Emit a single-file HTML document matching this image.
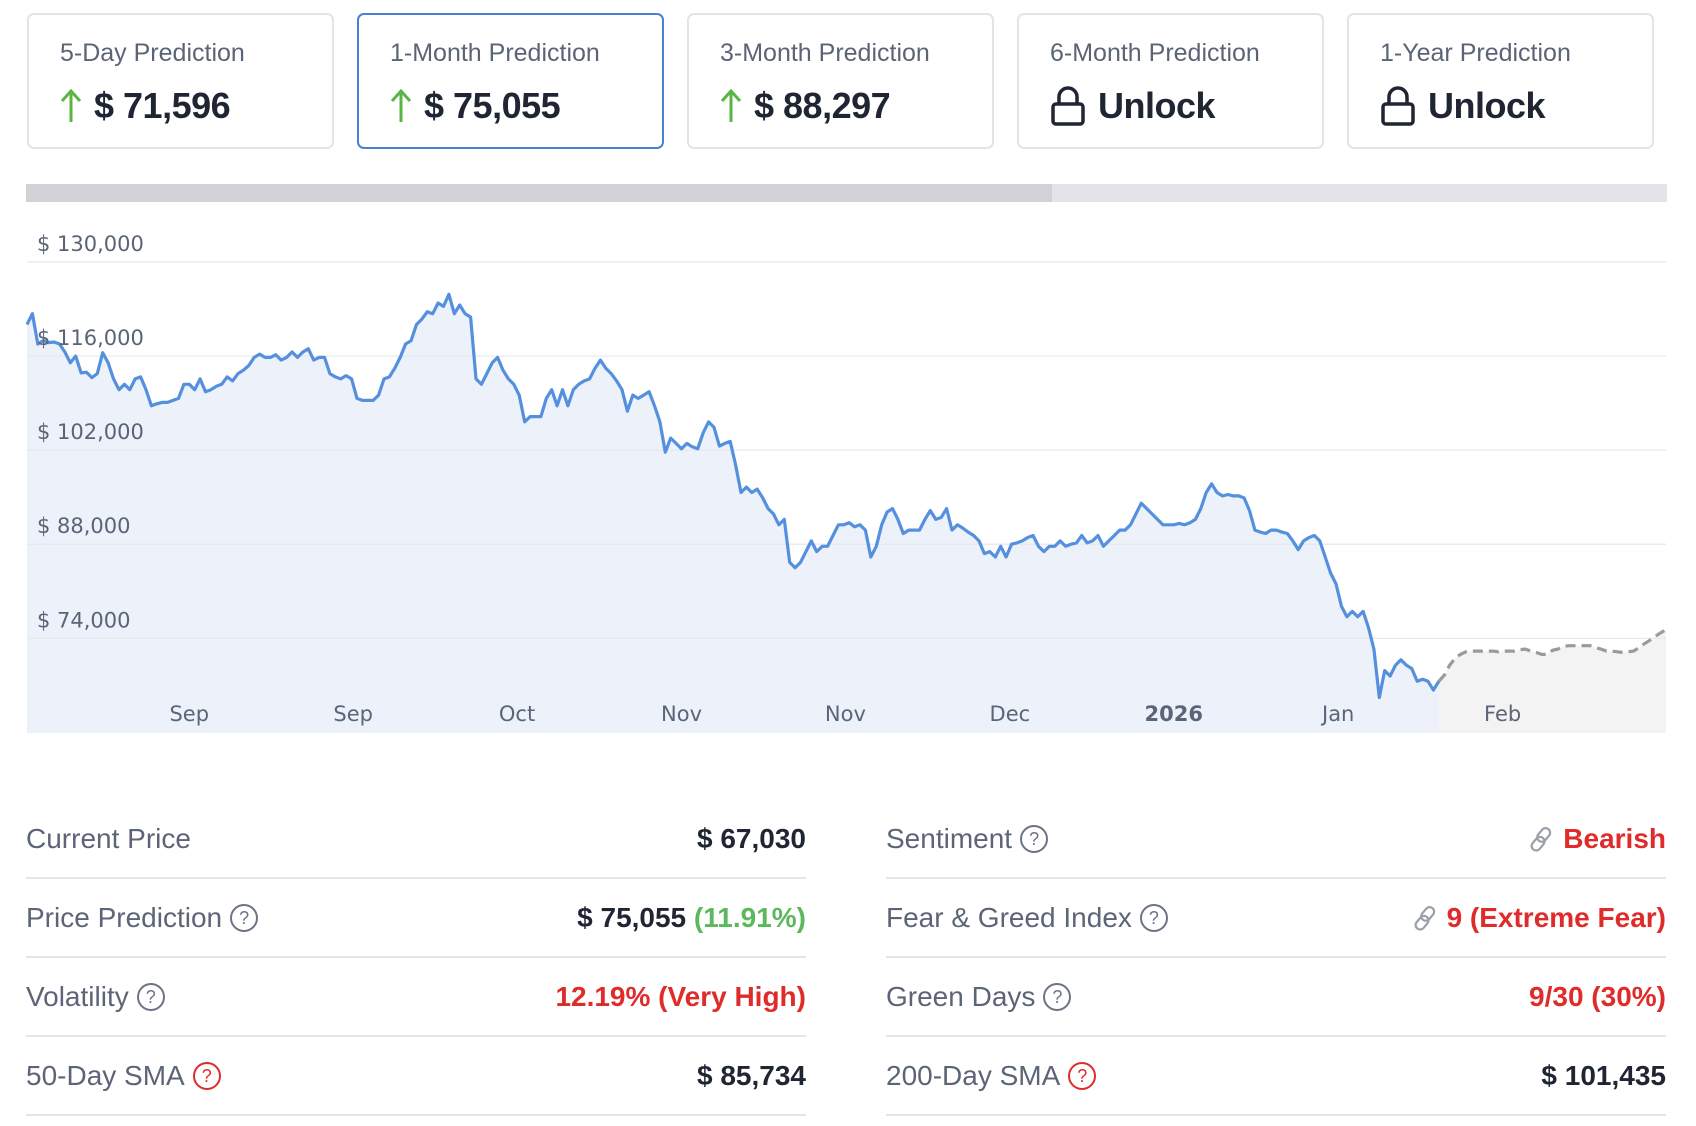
<!DOCTYPE html>
<html><head><meta charset="utf-8">
<style>
body{margin:0;width:1696px;height:1126px;background:#fff;font-family:"Liberation Sans",sans-serif;position:relative;overflow:hidden}
.card{position:absolute;top:13px;width:307px;height:136px;border:2px solid #e1e4e8;border-radius:7px;box-sizing:border-box;background:#fff}
.card.sel{border-color:#4a80d1}
.card .t{position:absolute;left:31px;top:24px;font-size:25px;color:#5b6477}
.card .v{position:absolute;left:31px;top:70px;font-size:36px;font-weight:bold;color:#1f2533;display:flex;align-items:center;letter-spacing:-0.5px}
.card .v svg{margin-right:12px}
.bar{position:absolute;left:26px;top:184px;width:1641px;height:18px;background:#e3e4e8}
.bar div{width:1026px;height:18px;background:#d1d2d7}
.row{position:absolute;height:79px;box-sizing:border-box;border-bottom:2px solid #e2e5ea;font-size:28px;display:flex;align-items:center;justify-content:space-between}
.row .l{color:#5c6578;display:flex;align-items:center}
.row .r{font-weight:bold;color:#1f2533;display:flex;align-items:center}
.q{display:inline-block;width:24px;height:24px;border:2px solid #6b7385;border-radius:50%;font-size:18px;line-height:24px;text-align:center;margin-left:8px;color:#6b7385;box-sizing:content-box}
.row .q.red{border-color:#e02b2b;color:#e02b2b}
.row .r.red,.red{color:#e02b2b}.grn{color:#5cb85c}
.lnk{margin-right:8px}
</style></head><body>
<div class="card" style="left:27px"><div class="t">5-Day Prediction</div><div class="v"><svg width="22" height="36" viewBox="0 0 22 36"><path d="M11 34V4M2 13L11 3L20 13" stroke="#5bb543" stroke-width="3" fill="none"/></svg>$ 71,596</div></div>
<div class="card sel" style="left:357px"><div class="t">1-Month Prediction</div><div class="v"><svg width="22" height="36" viewBox="0 0 22 36"><path d="M11 34V4M2 13L11 3L20 13" stroke="#5bb543" stroke-width="3" fill="none"/></svg>$ 75,055</div></div>
<div class="card" style="left:687px"><div class="t">3-Month Prediction</div><div class="v"><svg width="22" height="36" viewBox="0 0 22 36"><path d="M11 34V4M2 13L11 3L20 13" stroke="#5bb543" stroke-width="3" fill="none"/></svg>$ 88,297</div></div>
<div class="card" style="left:1017px"><div class="t">6-Month Prediction</div><div class="v"><svg width="36" height="40" viewBox="0 0 36 40"><path d="M9 18V11a9 9 0 0 1 18 0v7" stroke="#1f2533" stroke-width="3.5" fill="none"/><rect x="3" y="18" width="30" height="20" rx="3" stroke="#1f2533" stroke-width="3.5" fill="none"/></svg>Unlock</div></div>
<div class="card" style="left:1347px"><div class="t">1-Year Prediction</div><div class="v"><svg width="36" height="40" viewBox="0 0 36 40"><path d="M9 18V11a9 9 0 0 1 18 0v7" stroke="#1f2533" stroke-width="3.5" fill="none"/><rect x="3" y="18" width="30" height="20" rx="3" stroke="#1f2533" stroke-width="3.5" fill="none"/></svg>Unlock</div></div>
<div class="bar"><div></div></div>

<svg id="chart" width="1696" height="760" style="position:absolute;left:0;top:0"></svg>

<div class="row" style="left:26px;top:800px;width:780px"><span class="l">Current Price</span><span class="r">$ 67,030</span></div>
<div class="row" style="left:26px;top:879px;width:780px"><span class="l">Price Prediction<span class="q">?</span></span><span class="r">$ 75,055&nbsp;<span class="grn">(11.91%)</span></span></div>
<div class="row" style="left:26px;top:958px;width:780px"><span class="l">Volatility<span class="q">?</span></span><span class="r red">12.19% (Very High)</span></div>
<div class="row" style="left:26px;top:1037px;width:780px"><span class="l">50-Day SMA<span class="q red">?</span></span><span class="r">$ 85,734</span></div>
<div class="row" style="left:886px;top:800px;width:780px"><span class="l">Sentiment<span class="q">?</span></span><span class="r red"><svg class="lnk" width="28" height="28" viewBox="0 0 28 28"><g fill="none" stroke="#9aa0aa" stroke-width="2.2"><rect x="12" y="2" width="9" height="15" rx="4.5" transform="rotate(40 16 10)"/><rect x="7" y="11" width="9" height="15" rx="4.5" transform="rotate(40 11 18)"/></g></svg>Bearish</span></div>
<div class="row" style="left:886px;top:879px;width:780px"><span class="l">Fear &amp; Greed Index<span class="q">?</span></span><span class="r red"><svg class="lnk" width="28" height="28" viewBox="0 0 28 28"><g fill="none" stroke="#9aa0aa" stroke-width="2.2"><rect x="12" y="2" width="9" height="15" rx="4.5" transform="rotate(40 16 10)"/><rect x="7" y="11" width="9" height="15" rx="4.5" transform="rotate(40 11 18)"/></g></svg>9 (Extreme Fear)</span></div>
<div class="row" style="left:886px;top:958px;width:780px"><span class="l">Green Days<span class="q">?</span></span><span class="r red">9/30 (30%)</span></div>
<div class="row" style="left:886px;top:1037px;width:780px"><span class="l">200-Day SMA<span class="q red">?</span></span><span class="r">$ 101,435</span></div>

<script>
const history=[120.7,122.3,117.8,118.3,118.0,118.1,117.8,116.6,115.0,116.0,113.5,113.6,112.8,113.4,116.5,115.0,112.6,111.0,111.8,111.0,112.6,112.9,111.0,108.6,108.9,109.1,109.1,109.4,109.7,111.8,111.8,111.0,112.6,110.7,111.0,111.5,111.8,112.9,112.3,113.4,113.9,114.6,115.8,116.3,115.8,115.8,116.2,115.4,115.8,116.6,115.8,116.6,117.1,115.4,115.8,115.8,113.4,112.9,112.6,113.1,112.6,109.7,109.4,109.4,109.4,110.2,112.6,112.9,114.2,115.8,117.8,118.3,120.7,121.5,122.6,122.3,123.9,123.4,125.2,122.3,123.6,122.3,121.8,112.6,111.8,113.4,115.0,115.8,113.9,112.6,111.8,110.2,106.2,107.0,107.0,107.0,109.7,111.0,108.6,111.0,108.6,111.0,111.8,112.3,112.6,114.2,115.4,114.2,113.4,112.3,111.0,107.8,110.2,109.7,110.2,110.7,108.6,106.2,101.7,103.8,103.0,102.2,103.0,102.5,102.2,104.6,106.2,105.4,102.6,103.0,103.3,99.8,95.7,96.5,95.7,96.2,94.9,93.3,92.5,90.9,91.7,85.3,84.5,85.3,86.9,88.5,86.9,87.7,87.7,89.3,90.9,90.9,91.2,90.6,90.9,90.1,86.1,87.7,90.9,92.8,93.3,91.7,89.6,90.1,90.1,90.1,91.7,93.0,91.7,92.0,93.3,90.1,90.9,90.4,89.8,89.3,88.5,86.6,86.9,86.1,87.7,86.1,88.0,88.2,88.5,89.0,89.3,87.7,86.9,87.7,87.7,88.5,87.7,88.0,88.2,89.3,88.2,88.5,89.3,87.7,88.5,89.3,90.1,90.1,90.9,92.5,94.1,93.3,92.5,91.7,90.9,90.9,90.9,91.1,90.9,91.2,91.7,93.3,95.7,97.0,95.7,95.2,95.4,95.2,95.2,94.9,93.0,90.1,89.8,89.6,90.1,90.1,89.8,89.6,88.5,87.2,88.5,89.0,89.3,88.5,86.1,83.7,82.1,78.8,77.2,78.0,77.2,78.0,75.6,72.4,65.2,69.2,68.4,70.0,70.8,70.0,69.5,67.6,67.9,67.6,66.3,67.6];
const forecast=[67.6,68.5,70.0,71.0,71.6,72.0,72.1,72.1,72.1,72.1,72.1,72.0,72.1,72.1,72.1,72.3,72.4,72.1,71.9,71.6,71.6,72.2,72.4,72.8,72.9,72.9,72.9,72.9,72.9,72.6,72.4,72.1,72.1,72.0,71.9,72.0,72.1,72.6,73.2,73.7,74.3,74.8,75.3];
const yTicks=[130,116,102,88,74];
const yTickLabels=["$ 130,000","$ 116,000","$ 102,000","$ 88,000","$ 74,000"];
const xTickLabels=["Sep","Sep","Oct","Nov","Nov","Dec","2026","Jan","Feb"];
const xTickIndex=[30,60.3,90.6,121,151.3,181.7,212,242.4,272.8];

const NS="http://www.w3.org/2000/svg";
const svg=document.getElementById('chart');
const total=history.length+forecast.length-2;
const X0=27,X1=1666,BOT=733;
const xs=i=>X0+i*(X1-X0)/total;
const ys=v=>262+(130-v)*6.72;
function mk(tag,attrs){const e=document.createElementNS(NS,tag);for(const k in attrs)e.setAttribute(k,attrs[k]);svg.appendChild(e);return e;}
let ptsH=history.map((v,i)=>xs(i).toFixed(1)+','+ys(v).toFixed(1));
const off=history.length-1;
let ptsF=forecast.map((v,i)=>xs(off+i).toFixed(1)+','+ys(v).toFixed(1));
const areaH=mk('polygon',{points:ptsH.join(' ')+` ${xs(off)},${BOT} ${X0},${BOT}`,fill:'#edf2fa'});


const areaF=mk('polygon',{points:ptsF.join(' ')+` ${X1},${BOT} ${xs(off)},${BOT}`,fill:'#f3f3f3'});


yTicks.forEach((t,i)=>{
  const g=mk('line',{x1:X0,x2:X1,y1:ys(t),y2:ys(t),stroke:'#e5e8ed','stroke-width':1.2});
  
  
});
const lh=mk('polyline',{points:ptsH.join(' '),fill:'none',stroke:'#5590de','stroke-width':3.2,'stroke-linejoin':'round'});


const lf=mk('polyline',{points:ptsF.join(' '),fill:'none',stroke:'#9a9a9a','stroke-width':3.2,'stroke-dasharray':'10 6'});


yTicks.forEach((t,i)=>{
  const tx=mk('text',{x:37,y:ys(t)-11,fill:'#5a6477','font-size':21,'font-family':'"DejaVu Sans","Liberation Sans",sans-serif'});
  tx.textContent=yTickLabels[i];
  
  
});
xTickLabels.forEach((l,i)=>{
  const tx=mk('text',{x:xs(xTickIndex[i]),y:721,fill:'#5b6578','font-size':21,'text-anchor':'middle','font-weight':l==='2026'?'bold':'normal','font-family':'"DejaVu Sans","Liberation Sans",sans-serif'});
  tx.textContent=l;
  
  
});
</script>
</body></html>
